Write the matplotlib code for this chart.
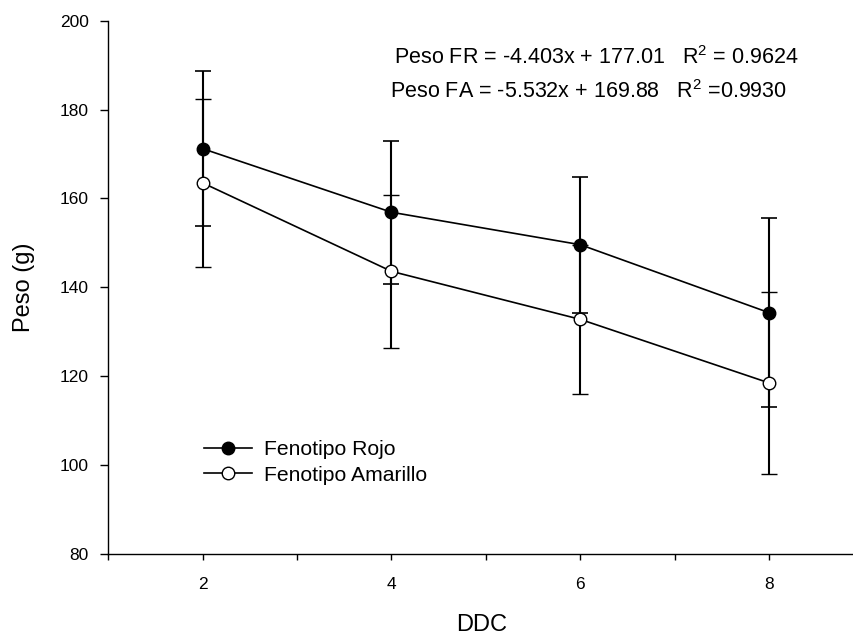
import numpy as np
import matplotlib
matplotlib.use("Agg")
from matplotlib import pyplot as plt
from matplotlib.lines import Line2D

# datos
ddc = [2, 4, 6, 8]
peso_fr = [171.2, 156.9, 149.6, 134.3]
err_fr = [17.5, 16.1, 15.3, 21.3]
peso_fa = [163.5, 143.6, 132.8, 118.5]
err_fa = [18.9, 17.2, 16.8, 20.5]

eq_fr = "Peso FR = -4.403x + 177.01   R$^2$ = 0.9624"
eq_fa = "Peso FA = -5.532x + 169.88   R$^2$ =0.9930"

plt.rcParams['font.family'] = ['Liberation Sans', 'DejaVu Sans']
plt.rcParams['mathtext.default'] = 'regular'

fig = plt.figure(figsize=(8.54, 6.41), dpi=100)
ax = fig.add_axes([108.3 / 854, 1 - 554 / 641, 1 - 108.3 / 854, (554 - 20.7) / 641])

ax.errorbar(ddc, peso_fr, yerr=err_fr, color='black', marker='o', markersize=9,
            markerfacecolor='black', markeredgecolor='black', linewidth=1.2,
            elinewidth=1.5, capsize=6, capthick=1.2, zorder=3)
ax.errorbar(ddc, peso_fa, yerr=err_fa, color='black', marker='o', markersize=9,
            markerfacecolor='white', markeredgecolor='black', markeredgewidth=1.0,
            linewidth=1.2, elinewidth=1.5, capsize=6, capthick=1.2, zorder=3)

ax.set_xlim(1, 8.9)
ax.set_ylim(80, 200)
ax.set_xticks([2, 4, 6, 8])
ax.set_xticks([1, 3, 5, 7], minor=True)
ax.set_yticks([80, 100, 120, 140, 160, 180, 200])
ax.tick_params(axis='y', length=6, width=1, pad=8, labelsize=12.5)
ax.tick_params(axis='x', which='both', length=4.5, width=1, pad=12, labelsize=12.5)

for s in ['top', 'right']:
    ax.spines[s].set_visible(False)
for s in ['left', 'bottom']:
    ax.spines[s].set_linewidth(1.0)

ax.set_xlabel('DDC', fontsize=17, labelpad=16)
ax.set_ylabel('Peso (g)', fontsize=17, labelpad=18)

handles = [
    Line2D([], [], color='black', marker='o', markersize=9, markerfacecolor='black',
           linewidth=1.2),
    Line2D([], [], color='black', marker='o', markersize=9, markerfacecolor='white',
           markeredgewidth=1.0, linewidth=1.2),
]
ax.legend(handles, ['Fenotipo Rojo', 'Fenotipo Amarillo'], loc='upper left',
          bbox_to_anchor=(0.128, 0.213), frameon=False,
          fontsize=15.2, handlelength=2.3, handletextpad=0.55, labelspacing=0.3,
          borderpad=0, borderaxespad=0)

fig.text(596 / 854, 1 - 58 / 641, eq_fr, fontsize=15.5, ha='center', va='center')
fig.text(588.5 / 854, 1 - 92 / 641, eq_fa, fontsize=15.5, ha='center', va='center')

plt.savefig('out.png', dpi=100)
